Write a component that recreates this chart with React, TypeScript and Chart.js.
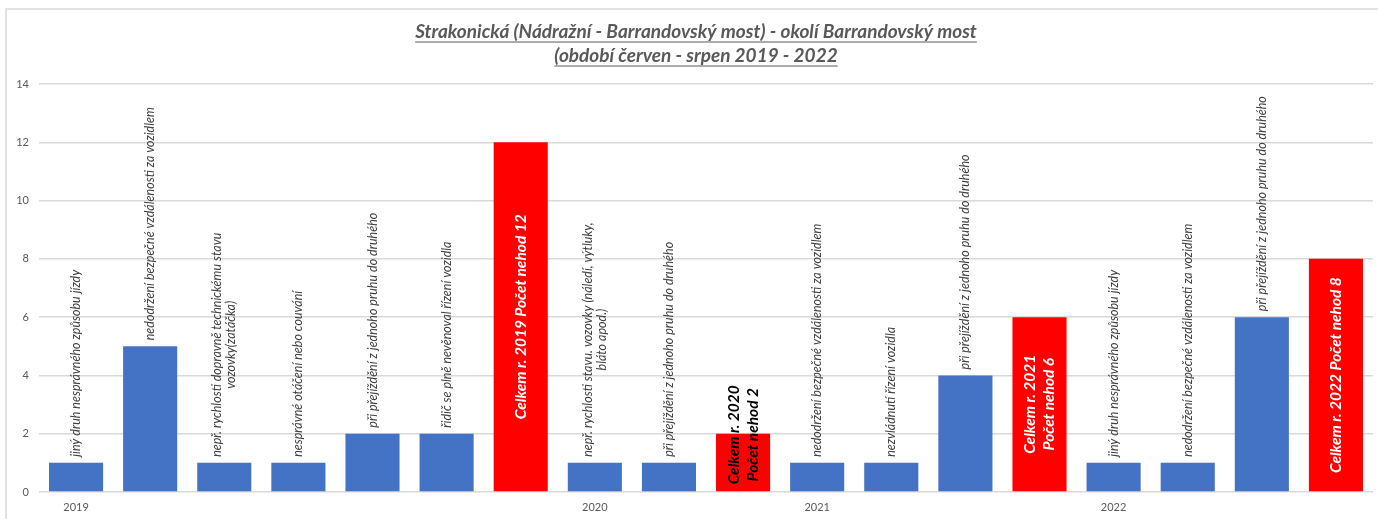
import { useEffect, useRef } from 'react';
import { Chart, registerables } from 'chart.js';

Chart.register(...registerables);

const titleLines = [
  'Strakonická (Nádražní - Barrandovský most) - okolí Barrandovský most',
  '(období červen - srpen 2019 - 2022',
];

const causeLabels: string[][] = [
  ['jiný druh nesprávného způsobu jízdy'],
  ['nedodržení bezpečné vzdálenosti za vozidlem'],
  ['nepř. rychlosti dopravně technickému stavu', 'vozovky(zatáčka)'],
  ['nesprávné otáčení nebo couvání'],
  ['při přejíždění z jednoho pruhu do druhého'],
  ['řidič se plně nevěnoval řízení vozidla'],
  ['Celkem r. 2019 Počet nehod 12'],
  ['nepř. rychlosti stavu. vozovky (náledí, výtluky,', 'bláto apod.)'],
  ['při přejíždění z jednoho pruhu do druhého'],
  ['Celkem r. 2020', 'Počet nehod 2'],
  ['nedodržení bezpečné vzdálenosti za vozidlem'],
  ['nezvládnutí řízení vozidla'],
  ['při přejíždění z jednoho pruhu do druhého'],
  ['Celkem r. 2021', 'Počet nehod 6'],
  ['jiný druh nesprávného způsobu jízdy'],
  ['nedodržení bezpečné vzdálenosti za vozidlem'],
  ['při přejíždění z jednoho pruhu do druhého'],
  ['Celkem r. 2022 Počet nehod 8'],
];

const accidentCounts = [1, 5, 1, 1, 2, 2, 12, 1, 1, 2, 1, 1, 4, 6, 1, 1, 6, 8];

const yearLabels = ['2019', '', '', '', '', '', '', '2020', '', '', '2021', '', '', '', '2022', '', '', ''];

const isYearTotal = [
  false, false, false, false, false, false, true,
  false, false, true,
  false, false, false, true,
  false, false, false, true,
];

const yMin = 0;
const yMax = 14;
const yStep = 2;

const BLUE = '#4472C4';
const RED = '#FF0000';
const GREY_TEXT = '#595959';
const GRID = '#D9D9D9';

const framePlugin = {
  id: 'frame',
  beforeDraw(chart: any) {
    const ctx = chart.ctx;
    ctx.save();
    ctx.fillStyle = '#ffffff';
    ctx.fillRect(0, 0, chart.width, chart.height);
    ctx.strokeStyle = GRID;
    ctx.lineWidth = 1.5;
    ctx.beginPath();
    ctx.moveTo(6, chart.height);
    ctx.lineTo(6, 9);
    ctx.lineTo(chart.width, 9);
    ctx.stroke();
    ctx.restore();
  },
};

const titlePlugin = {
  id: 'underlinedTitle',
  afterDraw(chart: any) {
    const ctx = chart.ctx;
    ctx.save();
    ctx.font = 'italic bold 19px Lato';
    ctx.fillStyle = GREY_TEXT;
    ctx.strokeStyle = GREY_TEXT;
    ctx.textAlign = 'center';
    ctx.textBaseline = 'alphabetic';
    const cx = 696;
    const baselines = [38, 62];
    titleLines.forEach((line, i) => {
      ctx.fillText(line, cx, baselines[i]);
      const w = ctx.measureText(line).width;
      ctx.lineWidth = 1.2;
      ctx.beginPath();
      ctx.moveTo(cx - w / 2, baselines[i] + 4);
      ctx.lineTo(cx + w / 2, baselines[i] + 4);
      ctx.stroke();
    });
    ctx.restore();
  },
};

const barLabelPlugin = {
  id: 'barLabels',
  afterDatasetsDraw(chart: any) {
    const ctx = chart.ctx;
    const meta = chart.getDatasetMeta(0);
    meta.data.forEach((bar: any, i: number) => {
      const { x, y, base } = bar.getProps(['x', 'y', 'base'], true);
      const lines = causeLabels[i];
      ctx.save();
      ctx.textAlign = 'center';
      ctx.textBaseline = 'middle';
      if (!isYearTotal[i]) {
        ctx.font = 'italic 12.5px Lato';
        ctx.fillStyle = '#404040';
        const w = Math.max(...lines.map((l) => ctx.measureText(l).width));
        ctx.translate(x, y - 6);
        ctx.rotate(-Math.PI / 2);
        lines.forEach((l, k) => {
          ctx.fillText(l, w / 2, (k - (lines.length - 1) / 2) * 14);
        });
      } else {
        ctx.font = 'italic bold 15.5px Lato';
        const w = Math.max(...lines.map((l) => ctx.measureText(l).width));
        const h = base - y;
        let cy: number;
        if (w + 12 < h) {
          cy = (y + base) / 2;
          ctx.fillStyle = '#ffffff';
        } else {
          cy = base - 7 - w / 2;
          ctx.fillStyle = '#000000';
        }
        ctx.translate(x, cy);
        ctx.rotate(-Math.PI / 2);
        lines.forEach((l, k) => {
          ctx.fillText(l, 0, (k - (lines.length - 1) / 2) * 19);
        });
      }
      ctx.restore();
    });
  },
};

export default function App() {
  const canvasRef = useRef<HTMLCanvasElement | null>(null);

  useEffect(() => {
    document.body.style.margin = '0';
    const canvas = canvasRef.current;
    if (!canvas) return;
    const chart = new Chart(canvas, {
      type: 'bar',
      data: {
        labels: yearLabels.map((_, i) => String(i)),
        datasets: [
          {
            data: accidentCounts,
            backgroundColor: isYearTotal.map((t) => (t ? RED : BLUE)),
            borderWidth: 0,
            categoryPercentage: 1,
            barPercentage: 0.73,
          },
        ],
      },
      options: {
        animation: false,
        responsive: false,
        devicePixelRatio: 1,
        layout: { padding: { top: 84, right: 5, left: 0, bottom: 0 } },
        plugins: {
          legend: { display: false },
          title: { display: false },
          tooltip: { enabled: false },
        },
        scales: {
          x: {
            grid: { display: false, drawTicks: false },
            border: { display: false },
            ticks: {
              autoSkip: false,
              maxRotation: 0,
              minRotation: 0,
              padding: 9,
              color: GREY_TEXT,
              font: { family: 'Lato', size: 11 },
              callback: (_v: any, i: number) => yearLabels[i],
            },
            afterFit: (axis: any) => {
              axis.height = 27;
            },
          },
          y: {
            min: yMin,
            max: yMax,
            grid: { color: GRID, drawTicks: false, lineWidth: 1.5 },
            border: { display: false },
            ticks: {
              stepSize: yStep,
              padding: 10,
              color: GREY_TEXT,
              font: { family: 'Lato', size: 11 },
            },
            afterFit: (axis: any) => {
              axis.width = 39;
            },
          },
        },
      },
      plugins: [framePlugin, titlePlugin, barLabelPlugin],
    });
    return () => chart.destroy();
  }, []);

  return <canvas ref={canvasRef} width={1378} height={519} style={{ display: 'block' }} />;
}
